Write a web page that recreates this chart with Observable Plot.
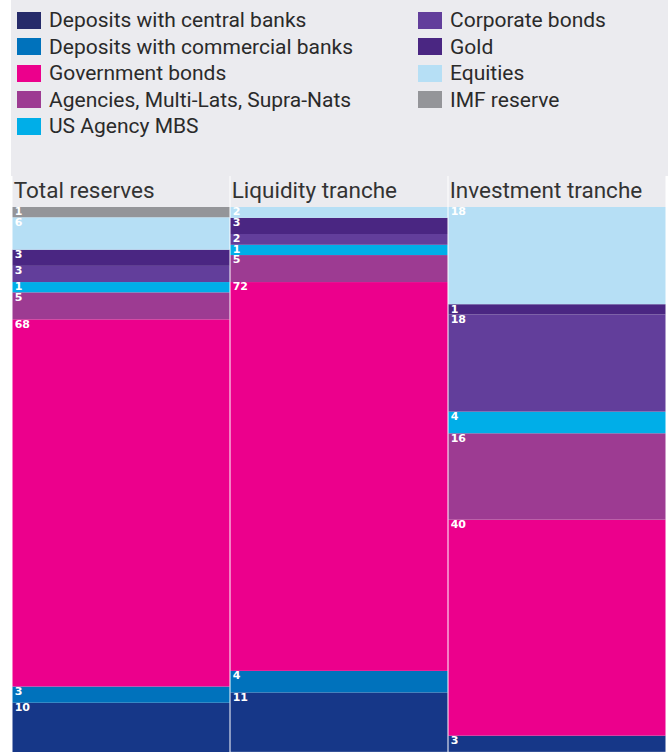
<!DOCTYPE html>
<html>
<head>
<meta charset="utf-8">
<script src="https://cdn.jsdelivr.net/npm/d3@7"></script>
<script src="https://cdn.jsdelivr.net/npm/@observablehq/plot@0.6"></script>
<style>
  html, body { margin: 0; padding: 0; background: white; overflow: hidden; }
  #legend { margin-left: 11px; width: 657px; height: 176px; background: #ebebef; position: relative; }
  #legend .grid { position: absolute; left: 6px; top: 7px; display: grid;
    grid-template-columns: 401px auto; grid-template-rows: repeat(5, 26.5px); grid-auto-flow: column; }
  #legend .item { display: flex; align-items: center; font: 21px Roboto, sans-serif; color: #2a2a2a; white-space: nowrap; }
  #legend .sw { width: 24px; height: 17px; margin-right: 8px; flex: none; }
</style>
</head>
<body>
<div id="legend"><div class="grid"></div></div>
<div id="chart"></div>
<script>
// Columns (tranches)
const columns = ["Total reserves", "Liquidity tranche", "Investment tranche"];
// Categories, stacked bottom to top
const categories = [
  "Deposits with central banks",
  "Deposits with commercial banks",
  "Government bonds",
  "Agencies, Multi-Lats, Supra-Nats",
  "US Agency MBS",
  "Corporate bonds",
  "Gold",
  "Equities",
  "IMF reserve"
];
// Shares (%) per category, same order as categories
const totalReserves = [10, 3, 68, 5, 1, 3, 3, 6, 1];
const liquidityTranche = [11, 4, 72, 5, 1, 2, 3, 2, 0];
const investmentTranche = [3, 0, 40, 16, 4, 18, 1, 18, 0];
// Legend order (two columns)
const legendOrder = [
  "Deposits with central banks",
  "Deposits with commercial banks",
  "Government bonds",
  "Agencies, Multi-Lats, Supra-Nats",
  "US Agency MBS",
  "Corporate bonds",
  "Gold",
  "Equities",
  "IMF reserve"
];
const colors = ["#163788", "#0072bc", "#ec008c", "#9d3b92", "#00aee8", "#623e9b", "#4a2682", "#b6dff5", "#949599"];
const legendSwatchOverride = {"Deposits with central banks": "#262b6a"};
// Smallest drawn segment height (in % units), so that labels of tiny shares fit
const minShare = 1.9;

const series = [totalReserves, liquidityTranche, investmentTranche];
const data = [];
columns.forEach((c, i) => categories.forEach((cat, j) => {
  if (series[i][j] > 0) data.push({column: c, category: cat, value: series[i][j]});
}));

// Legend
const grid = document.querySelector("#legend .grid");
legendOrder.forEach(cat => {
  const it = document.createElement("div");
  it.className = "item";
  const sw = document.createElement("span");
  sw.className = "sw";
  sw.style.background = legendSwatchOverride[cat] || colors[categories.indexOf(cat)];
  it.appendChild(sw);
  it.appendChild(document.createTextNode(cat));
  grid.appendChild(it);
});

// Layout
const W = 671, H = 576;            // svg size
const top0 = 31;                   // pixel of the stack top
const pxPerPct = 5.4;
const bw = (667 - 11) / 3;
const headerTop = -top0 / pxPerPct;
const topDown = categories.slice().reverse();
const shown = d => Math.max(d.value, minShare);

const plot = Plot.plot({
  width: W,
  height: H,
  marginTop: top0,
  marginBottom: 0,
  marginLeft: 11,
  marginRight: 4,
  style: {background: "white", overflow: "hidden"},
  x: {type: "band", domain: columns, range: [11, 667], padding: 0, axis: null},
  y: {domain: [0, 100], range: [top0, top0 + 100 * pxPerPct], axis: null},
  color: {domain: categories, range: colors},
  marks: [
    Plot.barY(columns, {x: d => d, y1: 0, y2: headerTop, fill: "#ebebef", insetLeft: 0.5, insetRight: 0.5}),
    Plot.text(columns, {x: d => d, y: 0, text: d => d, textAnchor: "start", lineAnchor: "bottom",
      dx: -bw / 2 + 1.5, dy: -10, fontFamily: "Roboto", fontSize: 22.5, fill: "#333"}),
    Plot.barY(data, Plot.stackY({x: "column", y: shown, fill: "category", order: topDown,
      insetLeft: 0.5, insetRight: 0.5, clip: true})),
    Plot.text(data, Plot.stackY1({x: "column", y: shown, z: "category", order: topDown,
      text: d => String(d.value), textAnchor: "start", lineAnchor: "top",
      dx: -bw / 2 + 2.5, dy: 0, fill: "white", fontFamily: "DejaVu Sans", fontWeight: "bold", fontSize: 11, clip: true}))
  ]
});
document.getElementById("chart").appendChild(plot);
</script>
</body>
</html>
